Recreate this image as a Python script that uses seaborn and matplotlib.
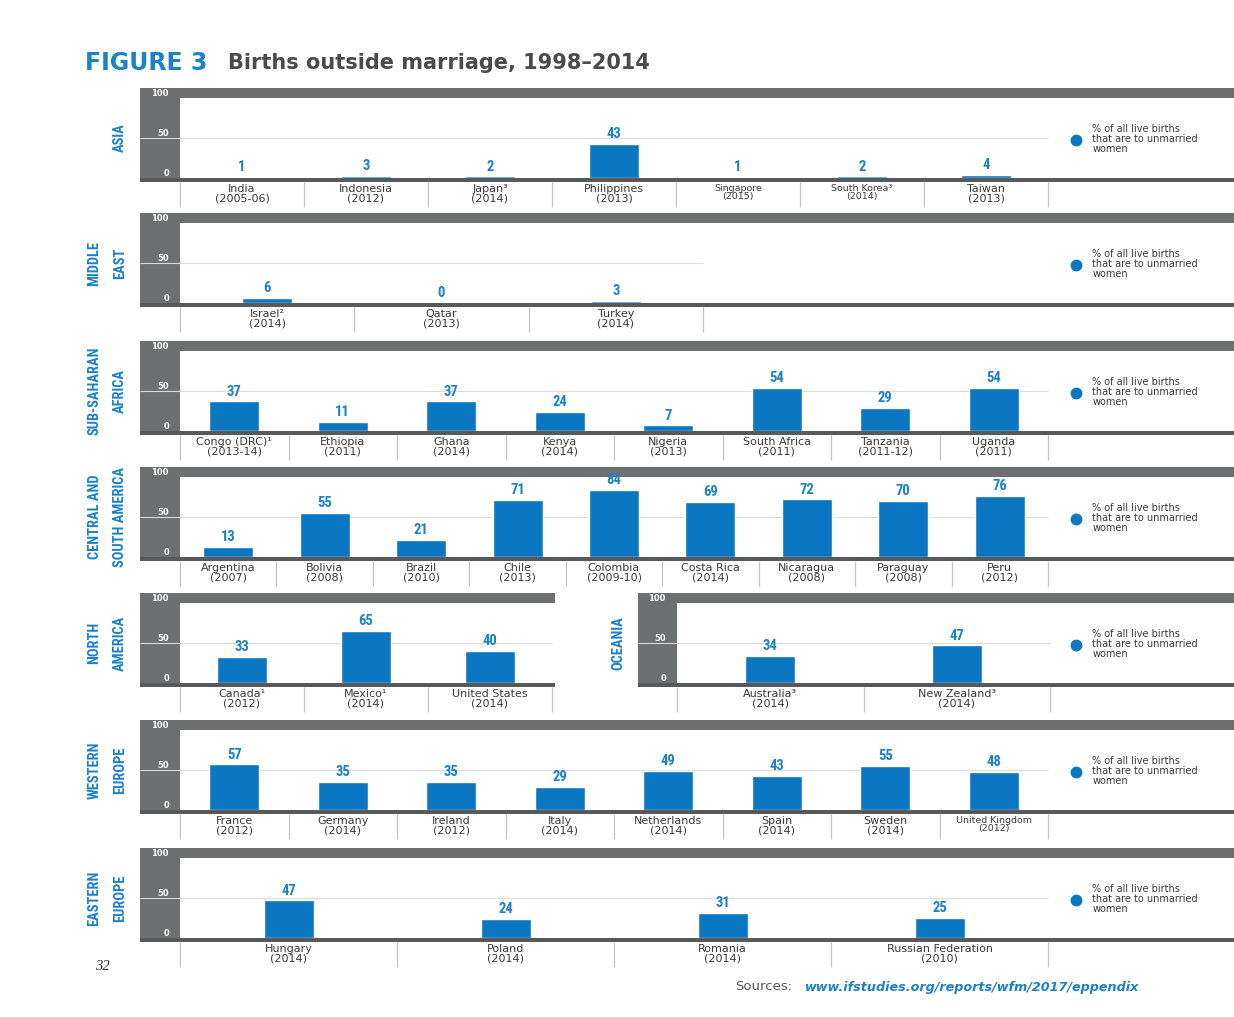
import os
import numpy as np
import pandas as pd
import matplotlib
matplotlib.use('Agg')
import matplotlib.pyplot as plt
import seaborn as sns
from matplotlib.patches import Rectangle
from matplotlib.lines import Line2D
from matplotlib import font_manager as fm

sns.set_theme(style='white')
plt.rcParams['font.family'] = ['DejaVu Sans']

W, H = 1234, 1017
BLUE = '#0b77c2'
LBLUE = '#1b82c6'
FRAME = '#6e6f71'
BASE = '#58595b'
GRID = '#dcdcdc'
SEP = '#c4c4c4'
TXT = '#3a3a3c'

# ---------------- data ----------------
asia_names = ['India', 'Indonesia', 'Japan³', 'Philippines', 'Singapore', 'South Korea³', 'Taiwan']
asia_years = ['2005-06', '2012', '2014', '2013', '2015', '2014', '2013']
asia_values = [1, 3, 2, 43, 1, 2, 4]

me_names = ['Israel²', 'Qatar', 'Turkey']
me_years = ['2014', '2013', '2014']
me_values = [6, 0, 3]

ssa_names = ['Congo (DRC)¹', 'Ethiopia', 'Ghana', 'Kenya', 'Nigeria', 'South Africa', 'Tanzania', 'Uganda']
ssa_years = ['2013-14', '2011', '2014', '2014', '2013', '2011', '2011-12', '2011']
ssa_values = [37, 11, 37, 24, 7, 54, 29, 54]

csa_names = ['Argentina', 'Bolivia', 'Brazil', 'Chile', 'Colombia', 'Costa Rica', 'Nicaragua', 'Paraguay', 'Peru']
csa_years = ['2007', '2008', '2010', '2013', '2009-10', '2014', '2008', '2008', '2012']
csa_values = [13, 55, 21, 71, 84, 69, 72, 70, 76]

na_names = ['Canada¹', 'Mexico¹', 'United States']
na_years = ['2012', '2014', '2014']
na_values = [33, 65, 40]

oc_names = ['Australia³', 'New Zealand³']
oc_years = ['2014', '2014']
oc_values = [34, 47]

we_names = ['France', 'Germany', 'Ireland', 'Italy', 'Netherlands', 'Spain', 'Sweden', 'United Kingdom']
we_years = ['2012', '2014', '2012', '2014', '2014', '2014', '2014', '2012']
we_values = [57, 35, 35, 29, 49, 43, 55, 48]

ee_names = ['Hungary', 'Poland', 'Romania', 'Russian Federation']
ee_years = ['2014', '2014', '2014', '2010']
ee_values = [47, 24, 31, 25]

small_labels = ['Singapore', 'South Korea³', 'United Kingdom']
legend_text = '% of all live births\nthat are to unmarried\nwomen'


# ---------------- condensed font lookup ----------------
def find_font(prefs):
    stems = {}
    for f in fm.fontManager.ttflist:
        stem = os.path.splitext(os.path.basename(f.fname))[0].lower()
        stem = stem.replace('-', '').replace('_', '').replace(' ', '')
        stems.setdefault(stem, f.fname)
    for p in prefs:
        if p in stems:
            return stems[p]
    return None


cond_file = find_font(['notosansextracondensedbold', 'robotocondensedbold',
                       'notosanscondensedbold', 'opensanscondensedbold',
                       'liberationsansnarrowbold', 'dejavusanscondensedbold',
                       'notosansextracondensedsemibold', 'notosanscondensedsemibold'])


def cond_fp(size):
    if cond_file:
        return fm.FontProperties(fname=cond_file, size=size)
    return fm.FontProperties(family='DejaVu Sans', weight='bold', size=size)


fig = plt.figure(figsize=(W / 100, H / 100), dpi=100)
fig.patch.set_facecolor('white')
renderer = fig.canvas.get_renderer()


def text_width(s, fp):
    t = fig.text(0, 0, s, fontproperties=fp)
    w = t.get_window_extent(renderer).width
    t.remove()
    return w


# size region labels so "SUB-SAHARAN" is ~88 px long
REGION_SIZE = min(16.0, 10 * 88 / text_width('SUB-SAHARAN', cond_fp(10)))
VALUE_SIZE = min(10.5, 10 * 15 / text_width('84', cond_fp(10)))
REGION_LS = 28 / (REGION_SIZE * 100 / 72 * 0.953)


def frect(x0, ya, x1, yb, color):
    fig.patches.append(Rectangle((x0 / W, 1 - yb / H), (x1 - x0) / W, (yb - ya) / H,
                                 transform=fig.transFigure, facecolor=color,
                                 edgecolor='none', lw=0, zorder=-1))


def draw_panel(region, names, years, values, top, fl, fr, pl, ce, legend=True):
    n = len(names)
    cw = (ce - pl) / n
    y0, y1 = top + 10, top + 90
    frect(fl, top, fr, y0, FRAME)
    frect(fl, y0, pl, y1, FRAME)
    frect(fl, y1, fr, y1 + 4, BASE)

    ax = fig.add_axes([pl / W, 1 - y1 / H, (fr - pl) / W, 80 / H])
    ax.set_facecolor('white')
    df = pd.DataFrame({'label': [f'{a}\n({b})' for a, b in zip(names, years)],
                       'value': values})
    sns.barplot(data=df, x='label', y='value', color=BLUE, saturation=1,
                width=50 / cw, errorbar=None, ax=ax, zorder=2)
    ax.set_xlim(-0.5, -0.5 + (fr - pl) / cw)
    ax.set_ylim(0, 100)
    ax.set_xlabel('')
    ax.set_ylabel('')
    for s in ax.spines.values():
        s.set_visible(False)

    # gridline at 50 (extends across the left band)
    ax.hlines(50, -0.5 - (pl - fl) / cw, n - 0.5, color=GRID, lw=0.8,
              zorder=0.5, clip_on=False)

    # y ticks inside dark band
    ax.set_yticks([0, 50, 100], ['0', '50', '100'])
    ax.tick_params(axis='y', length=0, pad=8, labelcolor='white', labelsize=6)
    for t in ax.get_yticklabels():
        t.set_va('bottom')
        t.set_fontweight('bold')

    # x labels
    ax.tick_params(axis='x', length=0, pad=4, labelsize=8, labelcolor=TXT)
    for t, nm in zip(ax.get_xticklabels(), names):
        t.set_linespacing(0.95)
        if nm in small_labels:
            t.set_fontsize(6.8)

    # separators under the base line
    ax.vlines(np.arange(n + 1) - 0.5, -36, -5, color=SEP, lw=0.9, clip_on=False)

    # value labels
    ax.bar_label(ax.containers[0], labels=[str(v) for v in values], padding=2,
                 color=LBLUE, fontproperties=cond_fp(VALUE_SIZE))

    # region label
    fig.text((fl - 13) / W, 1 - (top + 50) / H, region, rotation=90, ha='right',
             va='center', multialignment='center', color=LBLUE,
             fontproperties=cond_fp(REGION_SIZE), linespacing=REGION_LS)

    if legend:
        leg = ax.legend(handles=[Line2D([0], [0], marker='o', ls='none', color=BLUE,
                                        markersize=7.5)],
                        labels=[legend_text], loc='center left',
                        bbox_to_anchor=(1066 / W, 1 - (top + 51) / H),
                        bbox_transform=fig.transFigure, frameon=False, fontsize=7,
                        handletextpad=0.7, borderaxespad=0, borderpad=0,
                        labelcolor=TXT)
        for t in leg.get_texts():
            t.set_linespacing(1.05)
    return ax


draw_panel('ASIA', asia_names, asia_years, asia_values, 88, 140, 1234, 180, 1048)
draw_panel('MIDDLE\nEAST', me_names, me_years, me_values, 213, 140, 1234, 180, 703)
draw_panel('SUB-SAHARAN\nAFRICA', ssa_names, ssa_years, ssa_values, 341, 140, 1234, 180, 1048)
draw_panel('CENTRAL AND\nSOUTH AMERICA', csa_names, csa_years, csa_values, 467, 140, 1234, 180, 1048)
draw_panel('NORTH\nAMERICA', na_names, na_years, na_values, 593, 140, 555, 180, 552, legend=False)
draw_panel('OCEANIA', oc_names, oc_years, oc_values, 593, 638, 1234, 677, 1050)
draw_panel('WESTERN\nEUROPE', we_names, we_years, we_values, 720, 140, 1234, 180, 1048)
draw_panel('EASTERN\nEUROPE', ee_names, ee_years, ee_values, 848, 140, 1234, 180, 1048)

# title
fig.text(85 / W, 1 - 63 / H, 'FIGURE 3', color=LBLUE, fontsize=17,
         fontweight='bold', va='center', ha='left')
fig.text(228 / W, 1 - 63 / H, 'Births outside marriage, 1998–2014', color='#4a4a4c',
         fontsize=15, fontweight='bold', va='center', ha='left')

# footer
fig.text(95 / W, 1 - 966 / H, '32', family=['Liberation Serif', 'DejaVu Serif'],
         style='italic', fontsize=10.5, color='#333333', va='center', ha='left')
fig.text(735 / W, 1 - 987 / H, 'Sources:', color='#555555', fontsize=9.5,
         va='center', ha='left')
fig.text(805 / W, 1 - 987 / H, 'www.ifstudies.org/reports/wfm/2017/eppendix',
         color=LBLUE, fontsize=9.2, fontweight='bold', style='italic',
         va='center', ha='left')

fig.savefig('out.png', dpi=100, facecolor='white')
